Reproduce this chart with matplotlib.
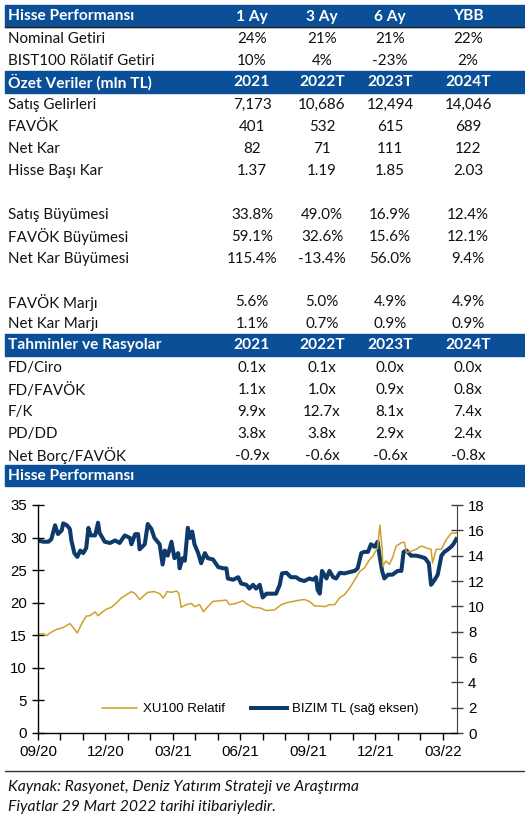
#!/usr/bin/env python3
"""Hisse ozet tablosu + fiyat performansi grafigi -> out.png"""

import matplotlib

matplotlib.use("Agg")
import matplotlib.dates as mdates
import matplotlib.pyplot as plt
import pandas as pd
from matplotlib.patches import Rectangle

W, H = 525, 823
BAND = "#0B4F98"
GOLD = "#CFA02A"
NAVY = "#0D3A6B"
TXT = "#111111"
TABLE_FONT = "Lato"
CHART_FONT = "Liberation Sans"

# --- table data ---
perf_cols = ["1 Ay", "3 Ay", "6 Ay", "YBB"]
perf_rows = ["Nominal Getiri", "BIST100 Rölatif Getiri"]
perf_vals = [["24%", "21%", "21%", "22%"],
             ["10%", "4%", "-23%", "2%"]]

year_cols = ["2021", "2022T", "2023T", "2024T"]
summary_rows = ["Satış Gelirleri", "FAVÖK", "Net Kar", "Hisse Başı Kar", "",
                "Satış Büyümesi", "FAVÖK Büyümesi", "Net Kar Büyümesi", "",
                "FAVÖK Marjı", "Net Kar Marjı"]
summary_vals = [["7,173", "10,686", "12,494", "14,046"],
                ["401", "532", "615", "689"],
                ["82", "71", "111", "122"],
                ["1.37", "1.19", "1.85", "2.03"],
                ["", "", "", ""],
                ["33.8%", "49.0%", "16.9%", "12.4%"],
                ["59.1%", "32.6%", "15.6%", "12.1%"],
                ["115.4%", "-13.4%", "56.0%", "9.4%"],
                ["", "", "", ""],
                ["5.6%", "5.0%", "4.9%", "4.9%"],
                ["1.1%", "0.7%", "0.9%", "0.9%"]]

ratio_rows = ["FD/Ciro", "FD/FAVÖK", "F/K", "PD/DD", "Net Borç/FAVÖK"]
ratio_vals = [["0.1x", "0.1x", "0.0x", "0.0x"],
              ["1.1x", "1.0x", "0.9x", "0.8x"],
              ["9.9x", "12.7x", "8.1x", "7.4x"],
              ["3.8x", "3.8x", "2.9x", "2.4x"],
              ["-0.9x", "-0.6x", "-0.6x", "-0.8x"]]

# --- chart data ---
xu_dates = ["2020-09-10", "2020-09-17", "2020-09-22", "2020-09-26", "2020-10-05",
            "2020-10-14", "2020-10-23", "2020-10-28", "2020-11-02", "2020-11-08",
            "2020-11-14", "2020-11-19", "2020-11-26", "2020-11-30", "2020-12-04",
            "2020-12-11", "2020-12-18", "2020-12-24", "2020-12-31", "2021-01-07",
            "2021-01-14", "2021-01-19", "2021-01-25", "2021-01-30", "2021-02-05",
            "2021-02-14", "2021-02-21", "2021-02-26", "2021-03-03", "2021-03-09",
            "2021-03-16", "2021-03-19", "2021-03-22", "2021-03-29", "2021-04-05",
            "2021-04-09", "2021-04-16", "2021-04-21", "2021-04-27", "2021-05-04",
            "2021-05-13", "2021-05-22", "2021-05-26", "2021-06-04", "2021-06-13",
            "2021-06-20", "2021-06-27", "2021-07-06", "2021-07-15", "2021-07-26",
            "2021-08-04", "2021-08-11", "2021-08-20", "2021-08-29", "2021-09-04",
            "2021-09-11", "2021-09-18", "2021-09-25", "2021-10-02", "2021-10-08",
            "2021-10-15", "2021-10-22", "2021-10-28", "2021-11-04", "2021-11-11",
            "2021-11-18", "2021-11-24", "2021-12-01", "2021-12-05", "2021-12-12",
            "2021-12-15", "2021-12-18", "2021-12-19", "2021-12-23", "2021-12-28",
            "2022-01-01", "2022-01-06", "2022-01-13", "2022-01-17", "2022-01-20",
            "2022-01-26", "2022-02-02", "2022-02-09", "2022-02-16", "2022-02-22",
            "2022-02-24", "2022-03-01", "2022-03-08", "2022-03-14", "2022-03-21",
            "2022-03-28"]
xu_vals = [15.2, 15.25, 14.95, 15.35, 15.9,
           16.2, 16.8, 16.1, 15.35, 16.8,
           17.95, 18.0, 18.6, 18.0, 18.4,
           19.0, 19.3, 19.9, 20.7, 21.2,
           21.7, 21.4, 20.5, 21.0, 21.6,
           21.7, 21.4, 20.7, 21.7, 21.6,
           21.8, 21.4, 19.3, 19.7, 19.9,
           19.4, 19.7, 18.6, 19.4, 20.2,
           20.3, 20.4, 19.7, 19.9, 20.3,
           19.7, 19.3, 19.2, 18.8, 18.9,
           19.7, 20.0, 20.2, 20.4, 20.5,
           20.2, 19.5, 19.5, 19.4, 19.7,
           19.7, 20.8, 21.2, 22.2, 23.5,
           24.8, 25.3, 26.6, 27.1, 28.4,
           31.9, 28.4, 25.6, 26.4, 25.9,
           26.9, 28.7, 29.2, 29.3, 27.7,
           27.9, 28.2, 28.7, 28.4, 28.2,
           26.1, 28.2, 28.2, 29.6, 30.65,
           30.7]

bzm_dates = ["2020-09-10", "2020-09-17", "2020-09-24", "2020-09-28", "2020-10-03",
             "2020-10-07", "2020-10-12", "2020-10-14", "2020-10-19", "2020-10-23",
             "2020-10-25", "2020-10-29", "2020-11-02", "2020-11-06", "2020-11-10",
             "2020-11-14", "2020-11-17", "2020-11-20", "2020-11-26", "2020-11-30",
             "2020-12-02", "2020-12-09", "2020-12-16", "2020-12-23", "2020-12-29",
             "2021-01-05", "2021-01-12", "2021-01-14", "2021-01-19", "2021-01-23",
             "2021-01-25", "2021-02-01", "2021-02-05", "2021-02-10", "2021-02-14",
             "2021-02-21", "2021-02-25", "2021-02-28", "2021-03-04", "2021-03-09",
             "2021-03-13", "2021-03-18", "2021-03-20", "2021-03-24", "2021-03-27",
             "2021-03-31", "2021-04-03", "2021-04-06", "2021-04-09", "2021-04-14",
             "2021-04-18", "2021-04-23", "2021-04-27", "2021-05-04", "2021-05-11",
             "2021-05-18", "2021-05-22", "2021-05-24", "2021-05-31", "2021-06-07",
             "2021-06-11", "2021-06-18", "2021-06-22", "2021-06-27", "2021-07-01",
             "2021-07-06", "2021-07-10", "2021-07-15", "2021-07-21", "2021-07-28",
             "2021-08-02", "2021-08-05", "2021-08-11", "2021-08-17", "2021-08-24",
             "2021-08-29", "2021-09-04", "2021-09-11", "2021-09-16", "2021-09-20",
             "2021-09-22", "2021-09-25", "2021-09-28", "2021-10-04", "2021-10-08",
             "2021-10-13", "2021-10-17", "2021-10-22", "2021-10-28", "2021-11-04",
             "2021-11-11", "2021-11-15", "2021-11-20", "2021-11-24", "2021-11-29",
             "2021-12-03", "2021-12-08", "2021-12-12", "2021-12-14", "2021-12-18",
             "2021-12-21", "2021-12-26", "2022-01-01", "2022-01-08", "2022-01-13",
             "2022-01-16", "2022-01-20", "2022-01-26", "2022-02-02", "2022-02-09",
             "2022-02-14", "2022-02-19", "2022-02-22", "2022-02-27", "2022-03-03",
             "2022-03-08", "2022-03-12", "2022-03-17", "2022-03-21", "2022-03-24",
             "2022-03-28"]
bzm_vals = [15.2, 15.1, 15.1, 15.3, 16.4,
            15.7, 16.0, 16.55, 16.4, 16.1,
            15.2, 14.2, 13.9, 14.4, 14.2,
            14.6, 16.2, 15.6, 15.6, 16.6,
            15.8, 15.1, 15.0, 15.2, 15.0,
            15.6, 15.4, 14.9, 15.7, 15.7,
            14.5, 14.9, 16.5, 16.1, 15.4,
            14.9, 13.3, 14.4, 14.0, 15.1,
            13.8, 14.2, 13.0, 13.8, 13.6,
            16.2, 15.4, 15.9, 14.9, 14.2,
            13.4, 14.2, 13.8, 13.7, 13.1,
            13.0, 13.0, 12.2, 12.1, 12.3,
            11.8, 11.7, 11.4, 11.7, 11.4,
            11.7, 10.7, 11.0, 11.0, 11.0,
            11.7, 12.6, 12.65, 12.3, 12.3,
            12.1, 12.0, 12.2, 12.1, 12.3,
            11.3, 11.0, 12.8, 12.2, 12.8,
            12.3, 12.2, 12.65, 12.6, 12.7,
            12.8, 13.0, 14.2, 14.3, 14.3,
            14.9, 14.7, 15.1, 14.2, 12.8,
            12.2, 12.5, 12.5, 12.8, 12.8,
            14.3, 14.4, 14.0, 14.0, 13.9,
            13.8, 13.4, 11.7, 12.1, 12.5,
            14.0, 14.3, 14.5, 14.7, 14.9,
            15.3]

x_start, x_end = "2020-09-10", "2022-03-29"

COL_X = [252, 322, 390, 468]
HEAD_SIZE = 11.2
ROW_SIZE = 10.9


def fx(px):
    return px / W


def fy(py):
    return 1 - py / H


def band(fig, top, h, title, cols):
    fig.patches.append(Rectangle((fx(5), fy(top + h)), fx(W - 5), h / H,
                                 transform=fig.transFigure, color=BAND, zorder=1))
    yc = fy(top + h / 2 + 0.5)
    fig.text(fx(8), yc, title, color="white", fontweight="bold",
             fontsize=HEAD_SIZE, family=TABLE_FONT, va="center", ha="left")
    for cx, c in zip(COL_X, cols):
        fig.text(fx(cx), yc, c, color="white", fontweight="bold",
                 fontsize=HEAD_SIZE, family=TABLE_FONT, va="center", ha="center")


def row(fig, top, h, label, vals):
    yc = fy(top + h / 2 + 1.5)
    fig.text(fx(8), yc, label, color=TXT, fontsize=ROW_SIZE, family=TABLE_FONT,
             va="center", ha="left")
    for cx, v in zip(COL_X, vals):
        fig.text(fx(cx), yc, v, color=TXT, fontsize=ROW_SIZE, family=TABLE_FONT,
                 va="center", ha="center")


def main():
    fig = plt.figure(figsize=(W / 100, H / 100), dpi=100)

    # table
    BH, RH = 22, 21.9
    y = 5
    blocks = [("Hisse Performansı", perf_cols, perf_rows, perf_vals),
              ("Özet Veriler (mln TL)", year_cols, summary_rows, summary_vals),
              ("Tahminler ve Rasyolar", year_cols, ratio_rows, ratio_vals)]
    for i, (title, cols, labels, vals) in enumerate(blocks):
        band(fig, y, BH, title, cols)
        y += BH
        if i == 0:
            fig.lines.append(plt.Line2D([fx(5), 1], [fy(y), fy(y)],
                                        transform=fig.transFigure,
                                        color="#222222", lw=1.0))
        for lab, v in zip(labels, vals):
            row(fig, y, RH, lab, v)
            y += RH
    band(fig, y, BH - 1, "Hisse Performansı", [])

    # chart
    ax = fig.add_axes([fx(38), fy(733), fx(457 - 38), (733 - 505) / H])
    ax2 = ax.twinx()
    ax.set_zorder(ax2.get_zorder() + 1)
    ax.patch.set_visible(False)

    l2, = ax2.plot(pd.to_datetime(bzm_dates), bzm_vals, color=NAVY, lw=2.9,
                   solid_joinstyle="round", label="BIZIM TL (sağ eksen)")
    l1, = ax.plot(pd.to_datetime(xu_dates), xu_vals, color=GOLD, lw=1.1,
                  label="XU100 Relatif")

    ax.set_xlim(pd.Timestamp(x_start), pd.Timestamp(x_end))
    ax.set_ylim(0, 35)
    ax2.set_ylim(0, 18)
    ax.set_yticks(range(0, 36, 5))
    ax2.set_yticks(range(0, 19, 2))

    start = pd.Timestamp(x_start)
    ticks = [start + pd.Timedelta(days=30.33 * k) for k in range(19)]
    ax.set_xticks([mdates.date2num(t) for t in ticks[::3]])
    ax.set_xticks([mdates.date2num(t) for k, t in enumerate(ticks) if k % 3],
                  minor=True)
    ax.xaxis.set_major_formatter(mdates.DateFormatter("%m/%y"))

    for a in (ax, ax2):
        a.spines["top"].set_visible(False)
    ax.spines["right"].set_visible(False)
    ax2.spines["left"].set_visible(False)
    ax2.spines["bottom"].set_visible(False)
    ax2.spines["right"].set_color("#404040")
    ax.spines["left"].set_linewidth(1.0)
    ax.spines["bottom"].set_linewidth(1.0)

    ax.tick_params(axis="y", direction="inout", length=8, width=1, pad=4,
                   labelsize=10.8)
    ax2.tick_params(axis="y", direction="inout", length=8, width=1, pad=4,
                    labelsize=10.8, color="#404040")
    ax.tick_params(axis="x", which="both", direction="out", length=5, width=1,
                   pad=4, labelsize=10.8)
    for t in ax.get_xticklabels() + ax.get_yticklabels() + ax2.get_yticklabels():
        t.set_family(CHART_FONT)

    ax.legend([l1, l2], [l1.get_label(), l2.get_label()], loc="center",
              bbox_to_anchor=(fx(260), fy(709)), bbox_transform=fig.transFigure,
              ncol=2, frameon=False, handlelength=2.7, handletextpad=0.4,
              columnspacing=2.0, prop={"family": CHART_FONT, "size": 9.5})

    # footer
    fig.lines.append(plt.Line2D([fx(5), 1], [fy(771), fy(771)],
                                transform=fig.transFigure, color="#333333", lw=1.0))
    fig.text(fx(8), fy(787), "Kaynak: Rasyonet, Deniz Yatırım Strateji ve Araştırma",
             style="italic", fontsize=11.3, family=TABLE_FONT, color=TXT, va="center")
    fig.text(fx(8), fy(807), "Fiyatlar 29 Mart 2022 tarihi itibariyledir.",
             style="italic", fontsize=11.3, family=TABLE_FONT, color=TXT, va="center")

    fig.savefig("out.png", dpi=100)


if __name__ == "__main__":
    main()
